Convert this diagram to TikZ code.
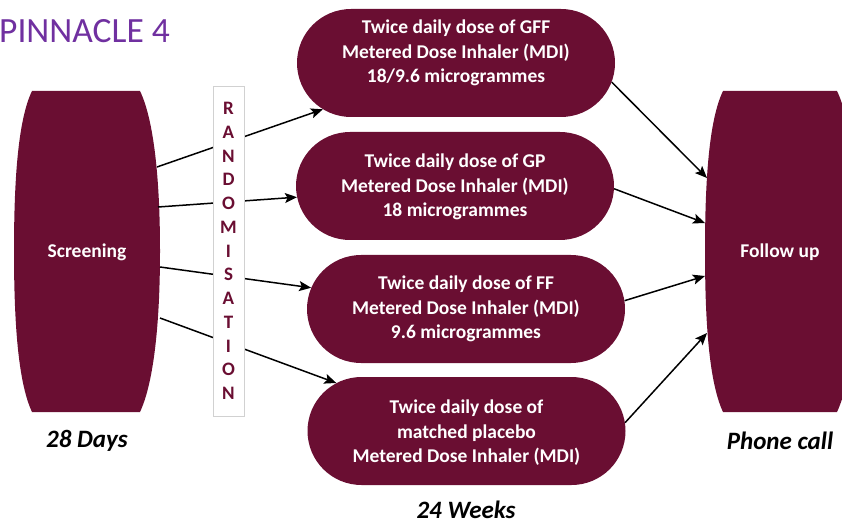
\documentclass[tikz,border=0pt]{standalone}
\usepackage{fontspec}
\setmainfont{Carlito}
\usetikzlibrary{shapes.misc,arrows.meta}
\definecolor{maroon}{RGB}{106,14,50}
\definecolor{pinn}{RGB}{112,48,160}
\begin{document}
\begin{tikzpicture}[x=1pt,y=-1pt,
  pill/.style={rounded rectangle, fill=maroon, minimum width=318pt, minimum height=108pt, inner sep=0pt},
  pilltext/.style={text=white, font=\fontsize{19.5}{24.5}\selectfont\bfseries, align=center, inner sep=0pt},
  bigtext/.style={text=white, font=\fontsize{19.5}{22}\selectfont\bfseries, inner sep=0pt},
  arr/.style={line width=1.5pt, -{Stealth[length=12pt,width=10pt,inset=2.5pt]}},
  caption/.style={font=\fontsize{25}{28}\selectfont\bfseries\itshape, inner sep=0pt}]
\useasboundingbox (0,0) rectangle (842,526);

% title
\node[anchor=west, text=pinn, font=\fontsize{35.5}{38}\selectfont, inner sep=0pt] (title) at (-1,31) {PINNACLE 4};

% screening barrel
\fill[maroon] (32,91) -- (140,91) .. controls (154,120) and (160,180) .. (160,251)
  .. controls (160,322) and (154,382) .. (140,412) -- (32,412)
  .. controls (18,382) and (14,322) .. (14,251) .. controls (14,180) and (18,120) .. (32,91) -- cycle;
\node[bigtext] (scr) at (87,252) {Screening};

% follow-up barrel
\fill[maroon] (723,91) -- (837,91) .. controls (851,120) and (857,180) .. (857,251)
  .. controls (857,322) and (851,382) .. (837,412) -- (723,412)
  .. controls (709,382) and (705,322) .. (705,251) .. controls (705,180) and (709,120) .. (723,91) -- cycle;
\node[bigtext] (fol) at (780,252) {Follow up};

% pills
\node[pill] (p1) at (456,63) {};
\node[pill] (p2) at (455,186) {};
\node[pill] (p3) at (466,309) {};
\node[pill] (p4) at (466.5,431) {};
\node[pilltext] (t1) at (456,53) {Twice daily dose of GFF\\Metered Dose Inhaler (MDI)\\18/9.6 microgrammes};
\node[pilltext] (t2) at (455,187) {Twice daily dose of GP\\Metered Dose Inhaler (MDI)\\18 microgrammes};
\node[pilltext] (t3) at (466,309) {Twice daily dose of FF\\Metered Dose Inhaler (MDI)\\9.6 microgrammes};
\node[pilltext] (t4) at (466.5,433) {Twice daily dose of\\matched placebo\\Metered Dose Inhaler (MDI)};

% connector end points
\coordinate (s1) at (157,167);
\coordinate (s2) at (158,207);
\coordinate (s3) at (160,267);
\coordinate (s4) at (160,318);
\coordinate (f1) at (707,178);
\coordinate (f2) at (705,223);
\coordinate (f3) at (705,276);
\coordinate (f4) at (707,333);

\draw[arr] (s1) -- (p1);
\draw[arr] (s2) -- (p2);
\draw[arr] (s3) -- (p3);
\draw[arr] (s4) -- (p4);
\draw[arr] (p1.-7.4) -- (f1);
\draw[arr] (p2.-1.1) -- (f2);
\draw[arr] (p3.3) -- (f3);
\draw[arr] (p4.3.3) -- (f4);

% randomisation box
\node[draw=black!18, line width=0.6pt, fill=white, minimum width=31pt, minimum height=330pt,
  inner sep=0pt, text=maroon, align=center, font=\fontsize{19}{23.75}\selectfont\bfseries] (rand) at (228.5,251)
  {R\\A\\N\\D\\O\\M\\I\\S\\A\\T\\I\\O\\N};

% captions
\node[caption] (c1) at (87,441) {28 Days};
\node[caption] (c2) at (780,441) {Phone call};
\node[caption] (c3) at (466,510) {24 Weeks};
\end{tikzpicture}
\end{document}
